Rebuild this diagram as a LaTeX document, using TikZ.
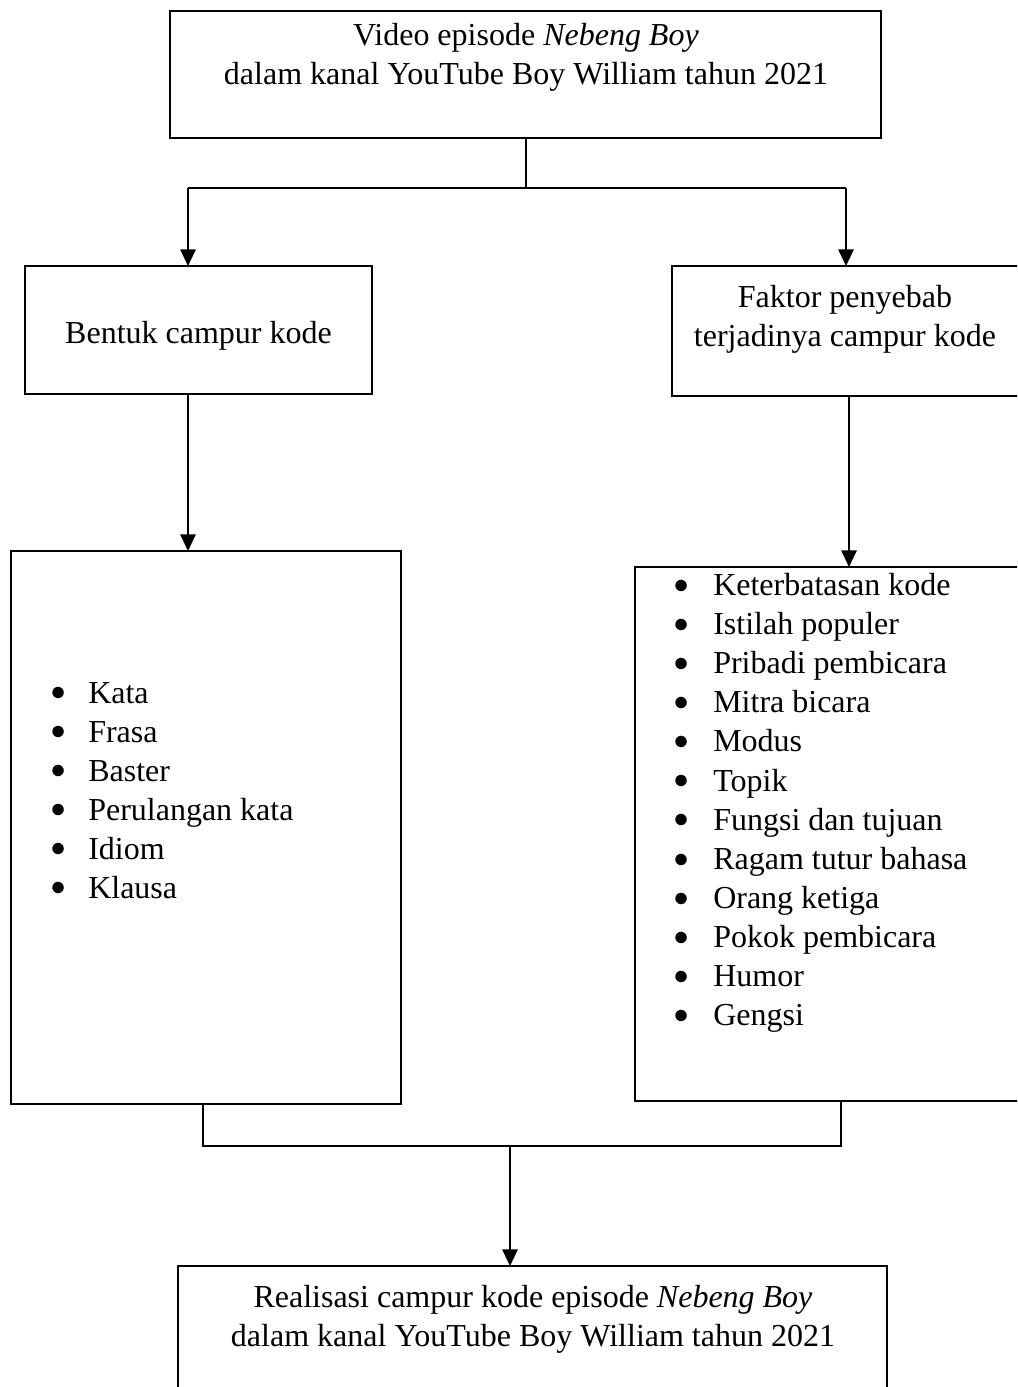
\documentclass[tikz,border=0pt]{standalone}
\usepackage{fontspec}
\setmainfont{Liberation Serif}
\usetikzlibrary{arrows.meta,fit}
\newcommand{\bul}{\makebox[0pt][c]{\raisebox{1.6pt}{\fontsize{20}{20}\selectfont ●}}}
\begin{document}
\begin{tikzpicture}[x=0.75pt,y=-0.75pt,
  box/.style={draw, line width=1.5pt, inner sep=0pt, outer sep=0pt},
  lbl/.style={font=\fontsize{24}{29.25}\selectfont, inner sep=0pt, anchor=base},
  item/.style={font=\fontsize{24}{29.25}\selectfont, inner sep=0pt, anchor=base west},
  conn/.style={line width=1.5pt},
  arr/.style={line width=1.5pt, -{Triangle[length=12.5pt,width=11.5pt]}}]
\useasboundingbox (0,0) rectangle (1017,1387);
\clip (0,0) rectangle (1017,1387);

% boxes
\node[box, fit={(170,11) (881,138)}] (top) {};
\node[box, fit={(25,266) (372,394)}] (bentuk) {};
\node[box, fit={(672,266) (1030,396)}] (faktor) {};
\node[box, fit={(11,551) (401,1104)}] (lbox) {};
\node[box, fit={(635,567) (1030,1101)}] (rbox) {};
\node[box, fit={(178,1266) (887,1420)}] (real) {};

% texts
\node[lbl] (t1) at (526,46) {Video episode \textit{Nebeng Boy}};
\node[lbl] (t2) at (526,85) {dalam kanal YouTube Boy William tahun 2021};
\node[lbl] (t3) at (198.5,344) {Bentuk campur kode};
\node[lbl] (t4) at (845,307) {Faktor penyebab};
\node[lbl] (t5) at (845,346) {terjadinya campur kode};
\node[lbl] (t6) at (533,1307) {Realisasi campur kode episode \textit{Nebeng Boy}};
\node[lbl] (t7) at (533,1346) {dalam kanal YouTube Boy William tahun 2021};

% lists
\foreach \t [count=\i] in {Kata,Frasa,Baster,Perulangan kata,Idiom,Klausa}
  \node[item] (L\i) at ({58},{703+39*(\i-1)}) {\bul\hspace{22.5pt}\t};
\foreach \t [count=\i] in {Keterbatasan kode,Istilah populer,Pribadi pembicara,Mitra bicara,Modus,Topik,Fungsi dan tujuan,Ragam tutur bahasa,Orang ketiga,Pokok pembicara,Humor,Gengsi}
  \node[item] (R\i) at ({681},{595.5+39.1*(\i-1)}) {\bul\hspace{24pt}\t};

% connectors
\coordinate (aL) at (188,188);
\coordinate (aR) at (846,188);
\coordinate (cR) at (849,0);
\coordinate (dL) at (203,1146);
\coordinate (dR) at (841,1146);
\coordinate (dM) at (510,1146);
\draw[conn] (top.south) -- (top.south |- aL);
\draw[conn] (aL) -- (aR);
\draw[arr] (aL) -- (aL |- bentuk.north);
\draw[arr] (aR) -- (aR |- faktor.north);
\draw[arr] (aL |- bentuk.south) -- (aL |- lbox.north);
\draw[arr] (cR |- faktor.south) -- (cR |- rbox.north);
\draw[conn] (dL |- lbox.south) -- (dL) -- (dR) -- (dR |- rbox.south);
\draw[arr] (dM) -- (dM |- real.north);
\end{tikzpicture}
\end{document}
